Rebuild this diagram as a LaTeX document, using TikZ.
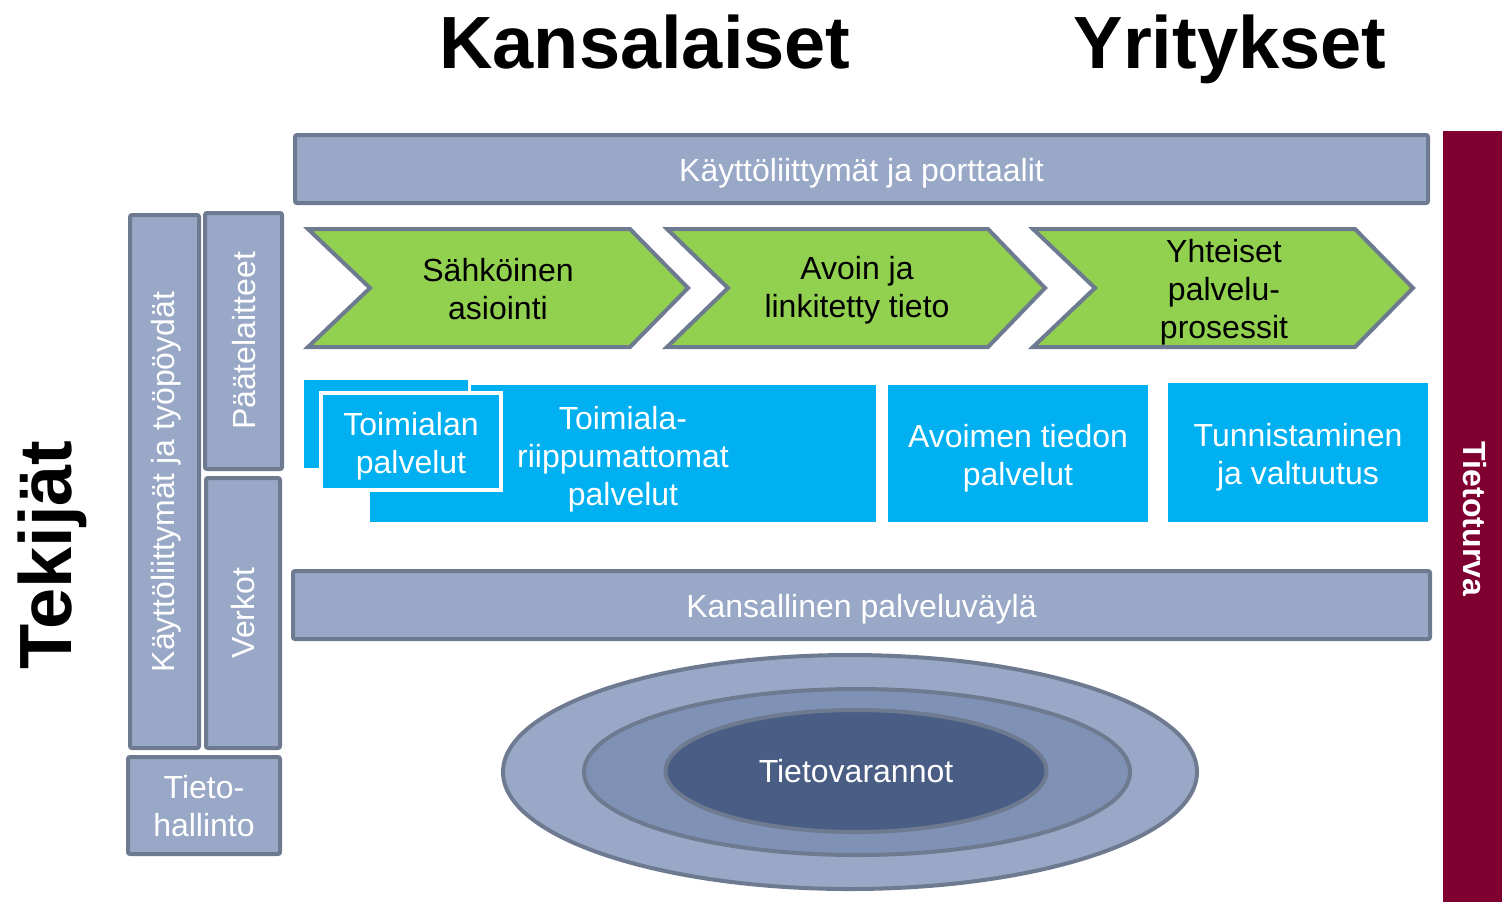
\documentclass[tikz,border=0pt]{standalone}
\usepackage{fontspec}
\setmainfont{Liberation Sans}
\usetikzlibrary{shapes.geometric}
\definecolor{barfill}{HTML}{98A8C6}
\definecolor{barline}{HTML}{6E7A90}
\definecolor{chevfill}{HTML}{92D050}
\definecolor{bluebox}{HTML}{00B0F0}
\definecolor{secred}{HTML}{7F0030}
\definecolor{midell}{HTML}{7F91B4}
\definecolor{innell}{HTML}{4A5E85}
\begin{document}
\begin{tikzpicture}[x=0.5pt,y=-0.5pt,
  body/.style={font=\fontsize{16}{19}\selectfont, align=center},
  wtext/.style={body, text=white},
  bar/.style={draw=barline, line width=2pt, fill=barfill, rounded corners=1pt, inner sep=0pt},
  chev/.style={draw=barline, line width=2pt, fill=chevfill, line join=miter},
  blue/.style={fill=bluebox, inner sep=0pt},
  title/.style={font=\fontsize{37}{40}\selectfont\bfseries, inner sep=0pt},
  ell/.style={ellipse, draw=barline, line width=2pt, inner sep=0pt}
]
\useasboundingbox (0,0) rectangle (1502,901);

% titles
\node[title, anchor=base] (kans) at (645,68) {Kansalaiset};
\node[title, anchor=base] (yrit) at (1230,68) {Yritykset};
\node[title, anchor=base, rotate=90] (tek) at (71,555) {Tekijät};

% security bar
\node[fill=secred, minimum width=30pt, minimum height=386pt, inner sep=0pt] (turva) at (1473,517) {};
\node[body, font=\fontsize{16}{19}\selectfont\bfseries, text=white, rotate=-90] (turvat) at (1475,519) {Tietoturva};

% horizontal bars
\node[bar, minimum width=566.5pt, minimum height=34pt] (ui) at (861.5,169) {};
\node[wtext, yshift=-2pt] (uit) at (ui.center) {Käyttöliittymät ja porttaalit};
\node[bar, minimum width=568.5pt, minimum height=34pt] (pv) at (861.5,605) {};
\node[wtext, yshift=-2pt] (pvt) at (pv.center) {Kansallinen palveluväylä};

% left column
\node[bar, minimum width=34.5pt, minimum height=266.5pt] (tyo) at (164.5,481.5) {};
\node[wtext, rotate=90] (tyot) at (166,482) {Käyttöliittymät ja työpöydät};
\node[bar, minimum width=38.5pt, minimum height=128pt] (paate) at (243.5,341) {};
\node[wtext, rotate=90] (paatet) at (244,341) {Päätelaitteet};
\node[bar, minimum width=37pt, minimum height=135pt] (verkot) at (243,613) {};
\node[wtext, rotate=90] (verkott) at (243,613) {Verkot};
\node[bar, minimum width=76pt, minimum height=48.5pt] (th) at (204,805.5) {};
\node[wtext, yshift=-0.5pt] (tht) at (th.center) {Tieto-\\hallinto};

% chevrons
\draw[chev] (308,229) -- (630,229) -- (688,288) -- (630,347) -- (308,347) -- (370,288) -- cycle;
\node[body] (c1) at (498,289) {Sähköinen\\asiointi};
\draw[chev] (667,229) -- (988,229) -- (1045,288) -- (988,347) -- (667,347) -- (728,288) -- cycle;
\node[body] (c2) at (857,290) {Avoin ja\\linkitetty tieto};
\draw[chev] (1033,229) -- (1355,229) -- (1413,288) -- (1355,347) -- (1033,347) -- (1095,288) -- cycle;
\node[body] (c3) at (1224,292) {Yhteiset\\palvelu-\\prosessit};

% blue service boxes
\node[blue, minimum width=253pt, minimum height=68.5pt] (riip) at (623,453.5) {};
\node[blue, draw=white, line width=1.5pt, minimum width=83.5pt, minimum height=45.5pt] (back) at (385.5,423.5) {};
\node[blue, draw=white, line width=2pt, minimum width=90pt, minimum height=48.5pt] (front) at (411,441.5) {};
\node[wtext, yshift=-2.5pt] (frontt) at (front.center) {Toimialan\\palvelut};
\node[wtext] (riipt) at (623,459) {Toimiala-\\riippumattomat\\palvelut};
\node[blue, minimum width=130pt, minimum height=68.5pt] (avo) at (1018,453.5) {};
\node[wtext, yshift=-2.5pt] (avot) at (avo.center) {Avoimen tiedon\\palvelut};
\node[blue, minimum width=130pt, minimum height=69.5pt] (tun) at (1298,452.5) {};
\node[wtext, yshift=-2.5pt] (tunt) at (tun.center) {Tunnistaminen\\ja valtuutus};

% data stores
\node[ell, fill=barfill, minimum width=347pt, minimum height=117pt] (outer) at (850,772) {};
\node[ell, fill=midell, minimum width=273pt, minimum height=83pt] (middle) at (857,772) {};
\node[ell, fill=innell, minimum width=190.5pt, minimum height=61pt] (inner) at (856,771) {};
\node[wtext] (innert) at (inner.center) {Tietovarannot};
\end{tikzpicture}
\end{document}
